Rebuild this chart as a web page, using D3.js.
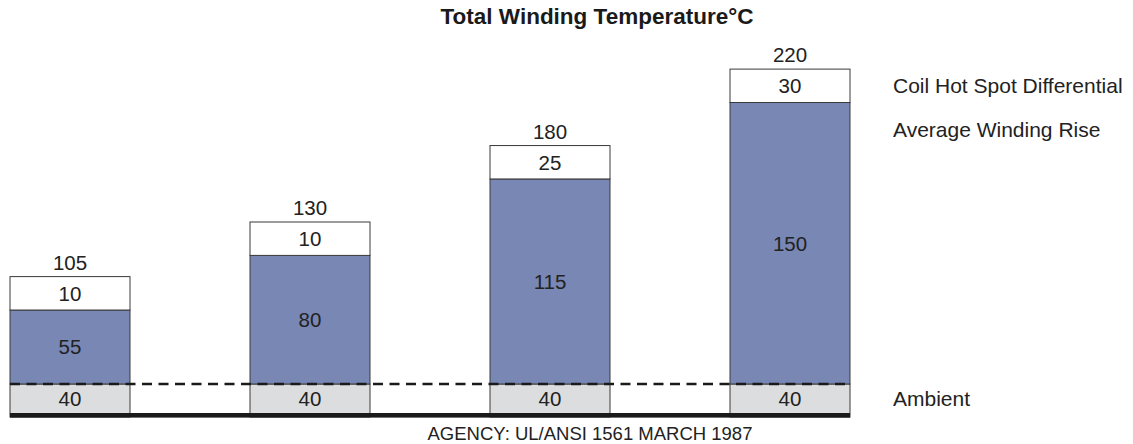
<!DOCTYPE html>
<html>
<head>
<meta charset="utf-8">
<script src="https://cdn.jsdelivr.net/npm/d3@7"></script>
<style>
  html, body { margin: 0; padding: 0; background: #fff; }
  svg { display: block; font-family: "Liberation Sans", Arial, Helvetica, sans-serif; }
</style>
</head>
<body>
<svg id="chart" width="1133" height="444"></svg>
<script>
// Insulation classes and their temperature build-up (°C)
const classes   = ["Class 105", "Class 130", "Class 180", "Class 220"];
const ambient   = [40, 40, 40, 40];
const rise      = [55, 80, 115, 150];
const hotSpot   = [10, 10, 25, 30];
const totals    = [105, 130, 180, 220];
const legend    = ["Coil Hot Spot Differential", "Average Winding Rise", "Ambient"];
const titleText = "Total Winding Temperature\u00B0C";
const noteText  = "AGENCY: UL/ANSI 1561 MARCH 1987";

const svg = d3.select("#chart");

const baseY    = 413;   // top of the heavy base line
const ambientH = 29;    // ambient band (drawn as a fixed schematic band)
const hotH     = 33.4;  // hot-spot band (fixed schematic band)
const ambTop   = baseY - ambientH;
const fs       = 20.5;  // label font size
const shift    = fs * 0.36; // baseline offset that centres a line of digits

const x = d3.scaleBand()
  .domain(classes)
  .range([10, 850])
  .paddingInner(0.5)
  .paddingOuter(0);

// Top of the winding-rise segment, by ambient + rise
const yRise = d3.scaleLinear()
  .domain([95, 190])
  .range([310, 102.5]);

const rows = classes.map((c, i) => ({
  cls: c, amb: ambient[i], rise: rise[i], hot: hotSpot[i], total: totals[i]
}));

const textColor = "#222";
const stroke = "#3a3a3a";

// Title
svg.append("text")
  .attr("x", 597).attr("y", 24)
  .attr("text-anchor", "middle")
  .attr("font-size", 22.5).attr("font-weight", "bold")
  .attr("fill", "#1a1a1a")
  .text(titleText);

const g = svg.append("g");

const bar = g.selectAll("g.bar").data(rows).join("g").attr("class", "bar");

// Ambient band
bar.append("rect")
  .attr("x", d => x(d.cls)).attr("width", x.bandwidth())
  .attr("y", ambTop).attr("height", baseY - ambTop + 4)
  .attr("fill", "#dcdddf").attr("stroke", stroke).attr("stroke-width", 1);

// Average winding rise
bar.append("rect")
  .attr("x", d => x(d.cls)).attr("width", x.bandwidth())
  .attr("y", d => yRise(d.amb + d.rise))
  .attr("height", d => ambTop - yRise(d.amb + d.rise))
  .attr("fill", "#7887b4").attr("stroke", stroke).attr("stroke-width", 1);

// Coil hot spot differential
bar.append("rect")
  .attr("x", d => x(d.cls)).attr("width", x.bandwidth())
  .attr("y", d => yRise(d.amb + d.rise) - hotH)
  .attr("height", hotH)
  .attr("fill", "#fff").attr("stroke", stroke).attr("stroke-width", 1);

const cx = d => x(d.cls) + x.bandwidth() / 2;

bar.append("text")
  .attr("x", cx).attr("y", (ambTop + baseY) / 2 + shift)
  .attr("text-anchor", "middle").attr("font-size", fs).attr("fill", textColor)
  .text(d => d.amb);

bar.append("text")
  .attr("x", cx).attr("y", d => (yRise(d.amb + d.rise) + ambTop) / 2 + shift)
  .attr("text-anchor", "middle").attr("font-size", fs).attr("fill", textColor)
  .text(d => d.rise);

bar.append("text")
  .attr("x", cx).attr("y", d => yRise(d.amb + d.rise) - hotH / 2 + shift)
  .attr("text-anchor", "middle").attr("font-size", fs).attr("fill", textColor)
  .text(d => d.hot);

bar.append("text")
  .attr("x", cx).attr("y", d => yRise(d.amb + d.rise) - hotH - 14 + shift)
  .attr("text-anchor", "middle").attr("font-size", fs).attr("fill", textColor)
  .text(d => d.total);

// Ambient reference line
g.append("line")
  .attr("x1", 10).attr("x2", 850)
  .attr("y1", ambTop).attr("y2", ambTop)
  .attr("stroke", "#1a1a1a").attr("stroke-width", 2.4)
  .attr("stroke-dasharray", "10,6.5");

// Base line
g.append("rect")
  .attr("x", 10).attr("y", baseY).attr("width", 840).attr("height", 4.6)
  .attr("fill", "#1a1a1a");

// Series labels to the right of the last bar
const last = rows[rows.length - 1];
const hotMid = yRise(last.amb + last.rise) - hotH / 2;
const labelY = [hotMid, hotMid + 44, (ambTop + baseY) / 2];
svg.selectAll("text.legend").data(legend).join("text")
  .attr("class", "legend")
  .attr("x", 893).attr("y", (d, i) => labelY[i] + 21 * 0.36)
  .attr("font-size", 21).attr("fill", textColor)
  .text(d => d);

// Source note
svg.append("text")
  .attr("x", 590).attr("y", 439.5)
  .attr("text-anchor", "middle").attr("font-size", 18.5).attr("fill", textColor)
  .text(noteText);
</script>
</body>
</html>
